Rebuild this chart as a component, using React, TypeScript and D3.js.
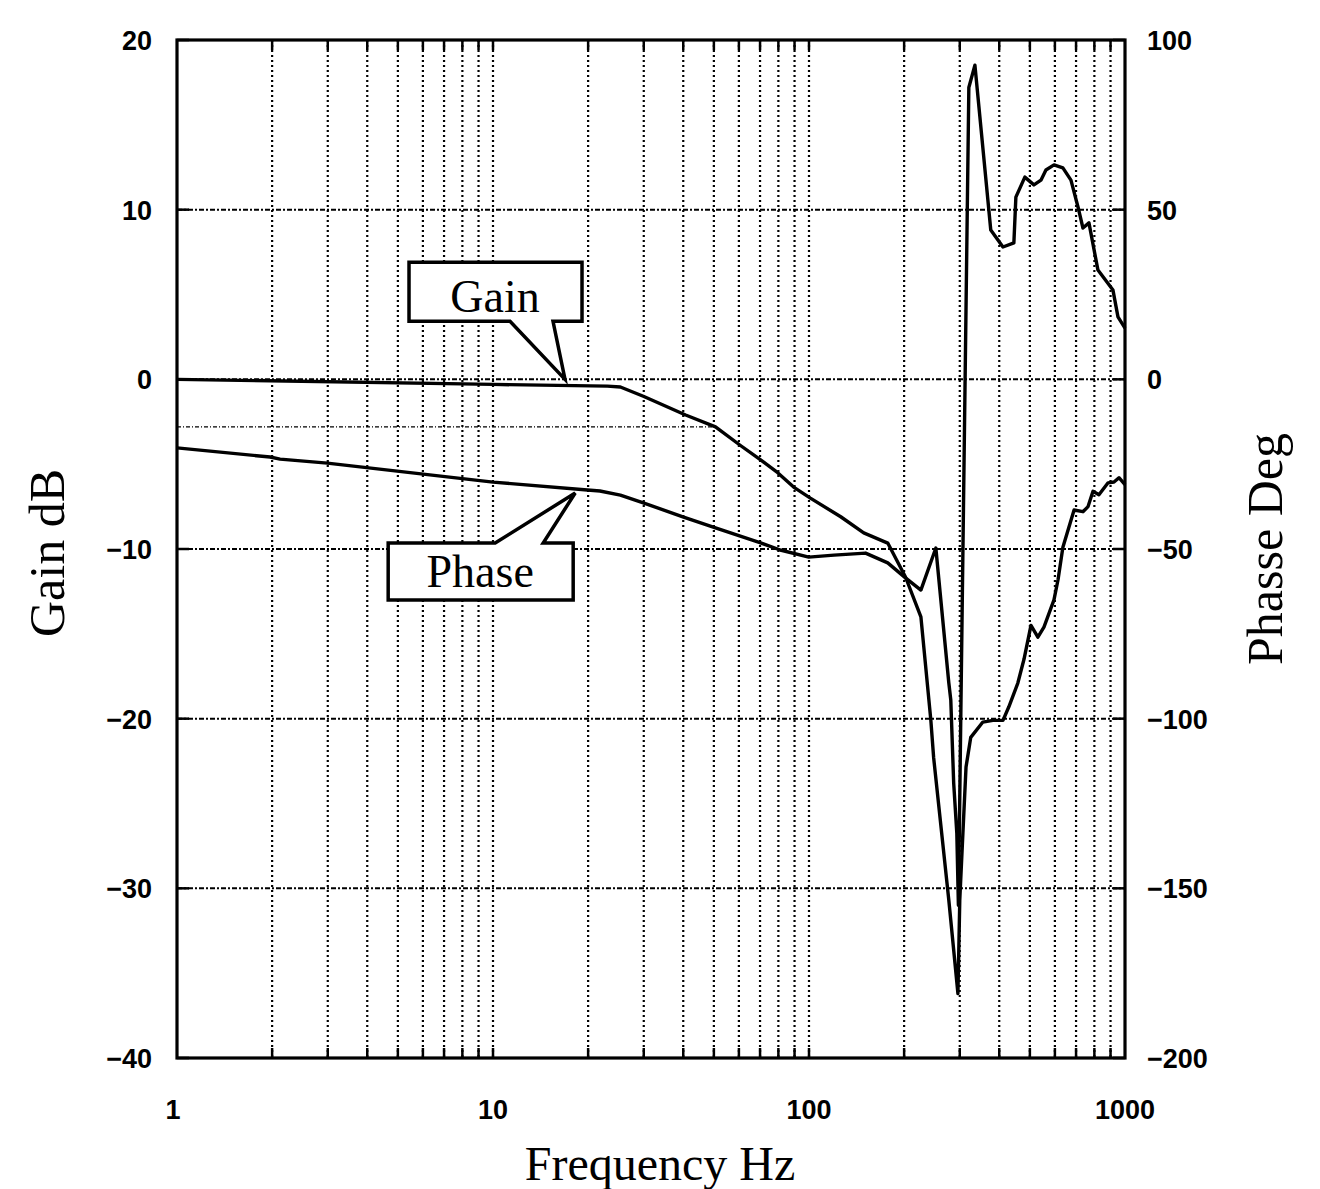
import React, { useEffect, useRef } from 'react';
import * as d3 from 'd3';

// frequency (Hz) / value pairs
const gainFreq = [1, 10, 23, 25.3, 29.9, 40.7, 50.6, 60.7, 70.3, 79.6, 89.4, 101, 126, 149, 177.5, 202, 226, 243, 248, 277, 296, 300, 307, 314, 325, 355, 382, 411, 429, 458, 479, 504, 530, 554, 596, 614, 636, 690, 736, 764, 792, 827, 884, 923, 957, 1000];
const gainDb = [0, -0.3, -0.4, -0.45, -1.0, -2.1, -2.8, -3.9, -4.75, -5.5, -6.35, -7.0, -8.1, -9.05, -9.65, -11.65, -14.0, -20.1, -22.3, -30.7, -36.2, -30.7, -26.7, -22.85, -21.1, -20.2, -20.1, -20.1, -19.3, -17.9, -16.5, -14.5, -15.2, -14.6, -13.0, -11.8, -9.9, -7.7, -7.8, -7.5, -6.6, -6.8, -6.1, -6.05, -5.8, -6.2];

const phaseFreq = [1, 1.97, 2.12, 2.99, 10, 19.9, 21.8, 25.3, 29.9, 40.1, 50.6, 70.3, 81.1, 99.8, 120, 151, 177.5, 202, 226, 252, 277, 281, 287, 293.6, 297, 320.5, 335, 376, 411, 445, 451.5, 482, 515, 542, 562, 596, 636, 674.5, 710, 736, 769, 821, 916, 950, 1000];
const phaseDeg = [-20.2, -22.9, -23.5, -24.7, -30.3, -32.6, -32.9, -34.1, -36.4, -40.6, -43.8, -48.2, -50.3, -52.4, -51.8, -51.2, -54.1, -58.5, -62.1, -49.7, -89.5, -94.5, -119, -133.7, -155, 86, 92.6, 44, 39, 40.2, 53.7, 59.6, 57.3, 58.7, 61.7, 63.2, 62.3, 58.7, 50.8, 44.6, 46.1, 32.2, 26.3, 18.4, 15.1];

const gainTicks = [20, 10, 0, -10, -20, -30, -40];
const phaseTicks = [100, 50, 0, -50, -100, -150, -200];
const freqTicks = [1, 10, 100, 1000];

// -3 dB guide
const cutoffDb = -2.8;
const cutoffFreq = 51;

// callout anchor points
const gainNote = { label: 'Gain', freq: 16.9, value: 0 };
const phaseNote = { label: 'Phase', freq: 18.2, value: -33.5 };

const W = 1320;
const H = 1189;
const left = 177, right = 1125, top = 40, bottom = 1058;

const fmt = (v: number) => (v < 0 ? '\u2212' + Math.abs(v) : String(v));

export default function App() {
  const svgRef = useRef<SVGSVGElement>(null);

  useEffect(() => {
    const svg = d3.select(svgRef.current);
    svg.selectAll('*').remove();

    const x = d3.scaleLog().domain([1, 1000]).range([left, right]);
    const yG = d3.scaleLinear().domain([-40, 20]).range([bottom, top]);
    const yP = d3.scaleLinear().domain([-200, 100]).range([bottom, top]);

    const minor: number[] = [];
    for (const dec of [1, 10, 100]) for (let k = 2; k <= 9; k++) minor.push(dec * k);
    const vLines = [...minor, 10, 100];

    // vertical grid
    svg.append('g').selectAll('line').data(vLines).join('line')
      .attr('x1', (d) => x(d)).attr('x2', (d) => x(d))
      .attr('y1', top).attr('y2', bottom)
      .attr('stroke', '#000').attr('stroke-width', 2.2)
      .attr('stroke-dasharray', '2 3');

    // horizontal grid
    svg.append('g').selectAll('line').data(gainTicks.slice(1, -1)).join('line')
      .attr('x1', left).attr('x2', right)
      .attr('y1', (d) => yG(d)).attr('y2', (d) => yG(d))
      .attr('stroke', '#000').attr('stroke-width', 2)
      .attr('stroke-dasharray', '5 2 2 2');

    // -3 dB guide
    svg.append('line')
      .attr('x1', left).attr('x2', x(cutoffFreq))
      .attr('y1', yG(cutoffDb)).attr('y2', yG(cutoffDb))
      .attr('stroke', '#000').attr('stroke-width', 1.2)
      .attr('stroke-dasharray', '4 2 1 2');

    // ticks (inward)
    const tk = svg.append('g').attr('stroke', '#000').attr('stroke-width', 2.5);
    vLines.forEach((f) => {
      tk.append('line').attr('x1', x(f)).attr('x2', x(f)).attr('y1', top).attr('y2', top + 10);
      tk.append('line').attr('x1', x(f)).attr('x2', x(f)).attr('y1', bottom).attr('y2', bottom - 10);
    });
    gainTicks.forEach((v) => {
      tk.append('line').attr('x1', left).attr('x2', left + 12).attr('y1', yG(v)).attr('y2', yG(v));
      tk.append('line').attr('x1', right).attr('x2', right - 12).attr('y1', yG(v)).attr('y2', yG(v));
    });

    // curves
    const gainData = gainFreq.map((f, i) => [f, gainDb[i]] as [number, number]);
    const phaseData = phaseFreq.map((f, i) => [f, phaseDeg[i]] as [number, number]);

    svg.append('path').datum(gainData)
      .attr('fill', 'none').attr('stroke', '#000').attr('stroke-width', 3.4)
      .attr('stroke-linejoin', 'round')
      .attr('d', d3.line<[number, number]>().x((d) => x(d[0])).y((d) => yG(d[1])));

    svg.append('path').datum(phaseData)
      .attr('fill', 'none').attr('stroke', '#000').attr('stroke-width', 3.4)
      .attr('stroke-linejoin', 'round')
      .attr('d', d3.line<[number, number]>().x((d) => x(d[0])).y((d) => yP(d[1])));

    // frame
    svg.append('rect')
      .attr('x', left).attr('y', top)
      .attr('width', right - left).attr('height', bottom - top)
      .attr('fill', 'none').attr('stroke', '#000').attr('stroke-width', 3.2);

    // tick labels
    const lab = svg.append('g')
      .attr('font-family', '"Liberation Sans", Arial, sans-serif')
      .attr('font-weight', 'bold').attr('font-size', 27).attr('fill', '#000');

    lab.selectAll('text.gl').data(gainTicks).join('text').attr('class', 'gl')
      .attr('x', 152).attr('y', (d) => yG(d) + 10)
      .attr('text-anchor', 'end').text((d) => fmt(d));

    lab.selectAll('text.pl').data(phaseTicks).join('text').attr('class', 'pl')
      .attr('x', 1147).attr('y', (d) => yP(d) + 10)
      .attr('text-anchor', 'start').text((d) => fmt(d));

    lab.selectAll('text.fl').data(freqTicks).join('text').attr('class', 'fl')
      .attr('x', (d) => x(d) - (d === 1 ? 4 : 0)).attr('y', 1119)
      .attr('text-anchor', 'middle').text((d) => String(d));

    // axis titles
    const ttl = svg.append('g')
      .attr('font-family', '"Liberation Serif", "Times New Roman", serif')
      .attr('font-size', 50).attr('fill', '#000');

    ttl.append('text')
      .attr('transform', `translate(64,${(top + bottom) / 2 + 4}) rotate(-90)`)
      .attr('text-anchor', 'middle').text('Gain  dB');

    ttl.append('text')
      .attr('transform', `translate(1282,${(top + bottom) / 2}) rotate(-90)`)
      .attr('text-anchor', 'middle').text('Phasse Deg');

    ttl.append('text')
      .attr('x', 660).attr('y', 1180)
      .attr('text-anchor', 'middle').attr('font-size', 48).text('Frequency Hz');

    // callouts
    const gx = x(gainNote.freq), gy = yG(gainNote.value);
    const gPath = `M${gx - 156},${gy - 117} H${gx + 17} V${gy - 58} H${gx - 12} L${gx},${gy} L${gx - 55},${gy - 58} H${gx - 156} Z`;
    svg.append('path').attr('d', gPath)
      .attr('fill', '#fff').attr('stroke', '#000').attr('stroke-width', 3.5)
      .attr('stroke-linejoin', 'miter');
    svg.append('text')
      .attr('x', gx - 70).attr('y', gy - 67)
      .attr('text-anchor', 'middle')
      .attr('font-family', '"Liberation Serif", "Times New Roman", serif')
      .attr('font-size', 46).text(gainNote.label);

    const px = x(phaseNote.freq), py = yP(phaseNote.value);
    const pPath = `M${px - 187},${py + 50} H${px - 80} L${px},${py} L${px - 32},${py + 50} H${px - 2} V${py + 107} H${px - 187} Z`;
    svg.append('path').attr('d', pPath)
      .attr('fill', '#fff').attr('stroke', '#000').attr('stroke-width', 3.5)
      .attr('stroke-linejoin', 'miter');
    svg.append('text')
      .attr('x', px - 95).attr('y', py + 94)
      .attr('text-anchor', 'middle')
      .attr('font-family', '"Liberation Serif", "Times New Roman", serif')
      .attr('font-size', 46).text(phaseNote.label);
  }, []);

  return (
    <svg
      ref={svgRef}
      width={W}
      height={H}
      style={{ position: 'absolute', left: 0, top: 0, background: '#fff' }}
    />
  );
}
